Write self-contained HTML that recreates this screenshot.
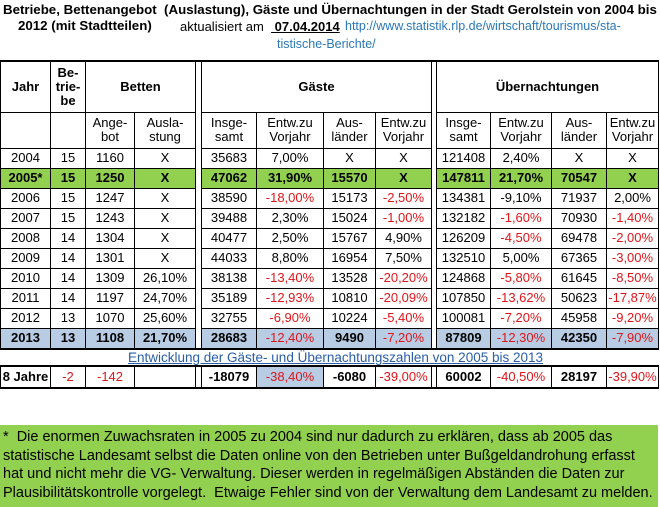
<!DOCTYPE html>
<html><head><meta charset="utf-8"><style>
body{margin:0;width:660px;height:507px;background:#fff;font-family:"Liberation Sans",Arial,sans-serif;position:relative;overflow:hidden}
.t{position:absolute;white-space:nowrap}
table{position:absolute;left:0;top:60px;border-collapse:collapse;table-layout:fixed;font-size:13px}
td{border:1px solid #000;text-align:center;padding:0;overflow:hidden;white-space:nowrap;line-height:14px}
td.d{border-top:none;border-bottom:none}
.r{color:#e0151b}
.b{font-weight:bold}
tr.g td{background:#92d050;font-weight:bold}
tr.g td.d{background:#fff}
tr.bl td{background:#b8cce4;font-weight:bold}
tr.bl td.d{background:#fff}
tr.bl td.r{font-weight:normal}
.h{font-weight:bold;font-size:13px}
tr.e td{border:none}
</style></head><body>
<div class="t" style="left:3px;top:2px;font-weight:bold;font-size:13.3px">Betriebe, Bettenangebot &nbsp;(Auslastung), Gäste und Übernachtungen in der Stadt Gerolstein von 2004 bis</div>
<div class="t" style="left:18px;top:18px;font-weight:bold;font-size:13.3px">2012 (mit Stadtteilen)</div>
<div class="t" style="left:180px;top:19px;font-size:13px">aktualisiert am &nbsp;<b style="text-decoration:underline">&nbsp;07.04.2014</b></div>
<div class="t" style="left:345px;top:19px;font-size:12.5px;color:#2a78b8">http://www.statistik.rlp.de/wirtschaft/tourismus/sta-</div>
<div class="t" style="left:277px;top:37px;font-size:12.5px;color:#2a78b8">tistische-Berichte/</div>
<table>
<colgroup><col style="width:50px"><col style="width:35px"><col style="width:49px"><col style="width:61px"><col style="width:6px"><col style="width:55px"><col style="width:67px"><col style="width:52px"><col style="width:56px"><col style="width:5px"><col style="width:54px"><col style="width:61px"><col style="width:55px"><col style="width:52px"></colgroup>
<tr style="height:51px;border-top:2px solid #000"><td class="h">Jahr</td><td class="h">Be-<br>trie-<br>be</td><td class="h" colspan="2">Betten</td><td class="d"></td><td class="h" colspan="4">Gäste</td><td class="d"></td><td class="h" colspan="4">Übernachtungen</td></tr>
<tr style="height:36px;font-size:13px"><td></td><td></td><td>Ange-<br>bot</td><td>Ausla-<br>stung</td><td class="d"></td><td>Insge-<br>samt</td><td>Entw.zu<br>Vorjahr</td><td>Aus-<br>länder</td><td>Entw.zu<br>Vorjahr</td><td class="d"></td><td>Insge-<br>samt</td><td>Entw.zu<br>Vorjahr</td><td>Aus-<br>länder</td><td>Entw.zu<br>Vorjahr</td></tr>
<tr style="height:20px"><td>2004</td><td>15</td><td>1160</td><td>X</td><td class="d"></td><td>35683</td><td>7,00%</td><td>X</td><td>X</td><td class="d"></td><td>121408</td><td>2,40%</td><td>X</td><td>X</td></tr>
<tr class="g" style="height:20px"><td>2005*</td><td>15</td><td>1250</td><td>X</td><td class="d"></td><td>47062</td><td>31,90%</td><td>15570</td><td>X</td><td class="d"></td><td>147811</td><td>21,70%</td><td>70547</td><td>X</td></tr>
<tr style="height:20px"><td>2006</td><td>15</td><td>1247</td><td>X</td><td class="d"></td><td>38590</td><td class="r">-18,00%</td><td>15173</td><td class="r">-2,50%</td><td class="d"></td><td>134381</td><td>-9,10%</td><td>71937</td><td>2,00%</td></tr>
<tr style="height:20px"><td>2007</td><td>15</td><td>1243</td><td>X</td><td class="d"></td><td>39488</td><td>2,30%</td><td>15024</td><td class="r">-1,00%</td><td class="d"></td><td>132182</td><td class="r">-1,60%</td><td>70930</td><td class="r">-1,40%</td></tr>
<tr style="height:20px"><td>2008</td><td>14</td><td>1304</td><td>X</td><td class="d"></td><td>40477</td><td>2,50%</td><td>15767</td><td>4,90%</td><td class="d"></td><td>126209</td><td class="r">-4,50%</td><td>69478</td><td class="r">-2,00%</td></tr>
<tr style="height:20px"><td>2009</td><td>14</td><td>1301</td><td>X</td><td class="d"></td><td>44033</td><td>8,80%</td><td>16954</td><td>7,50%</td><td class="d"></td><td>132510</td><td>5,00%</td><td>67365</td><td class="r">-3,00%</td></tr>
<tr style="height:20px"><td>2010</td><td>14</td><td>1309</td><td>26,10%</td><td class="d"></td><td>38138</td><td class="r">-13,40%</td><td>13528</td><td class="r">-20,20%</td><td class="d"></td><td>124868</td><td class="r">-5,80%</td><td>61645</td><td class="r">-8,50%</td></tr>
<tr style="height:20px"><td>2011</td><td>14</td><td>1197</td><td>24,70%</td><td class="d"></td><td>35189</td><td class="r">-12,93%</td><td>10810</td><td class="r">-20,09%</td><td class="d"></td><td>107850</td><td class="r">-13,62%</td><td>50623</td><td class="r">-17,87%</td></tr>
<tr style="height:20px"><td>2012</td><td>13</td><td>1070</td><td>25,60%</td><td class="d"></td><td>32755</td><td class="r">-6,90%</td><td>10224</td><td class="r">-5,40%</td><td class="d"></td><td>100081</td><td class="r">-7,20%</td><td>45958</td><td class="r">-9,20%</td></tr>
<tr class="bl" style="height:21px;border-bottom:2px solid #000"><td>2013</td><td>13</td><td>1108</td><td>21,70%</td><td class="d"></td><td>28683</td><td class="r">-12,40%</td><td>9490</td><td class="r">-7,20%</td><td class="d"></td><td>87809</td><td class="r">-12,30%</td><td>42350</td><td class="r">-7,90%</td></tr>
<tr class="e" style="height:17px"><td colspan="14" style="color:#2a5ea8;text-decoration:underline;font-size:13.5px;padding-left:12px">Entwicklung der Gäste- und Übernachtungszahlen von 2005 bis 2013</td></tr>
<tr style="height:22px;border-top:2px solid #000;border-bottom:2px solid #000"><td class="b">8 Jahre</td><td class="r">-2</td><td class="r">-142</td><td></td><td class="d"></td><td class="b">-18079</td><td class="r" style="background:#b8cce4">-38,40%</td><td class="b">-6080</td><td class="r">-39,00%</td><td class="d"></td><td class="b">60002</td><td class="r">-40,50%</td><td class="b">28197</td><td class="r">-39,90%</td></tr>
</table>
<div style="position:absolute;left:0;top:425px;width:658px;height:82px;background:#92d050;font-size:14.5px;line-height:18.5px;padding:3px 0 0 3px;box-sizing:border-box;white-space:nowrap">*&nbsp; Die enormen Zuwachsraten in 2005 zu 2004 sind nur dadurch zu erklären, dass ab 2005 das<br>statistische Landesamt selbst die Daten online von den Betrieben unter Bußgeldandrohung erfasst<br>hat und nicht mehr die VG- Verwaltung. Dieser werden in regelmäßigen Abständen die Daten zur<br>Plausibilitätskontrolle vorgelegt.&nbsp; Etwaige Fehler sind von der Verwaltung dem Landesamt zu melden.</div>
</body></html>
